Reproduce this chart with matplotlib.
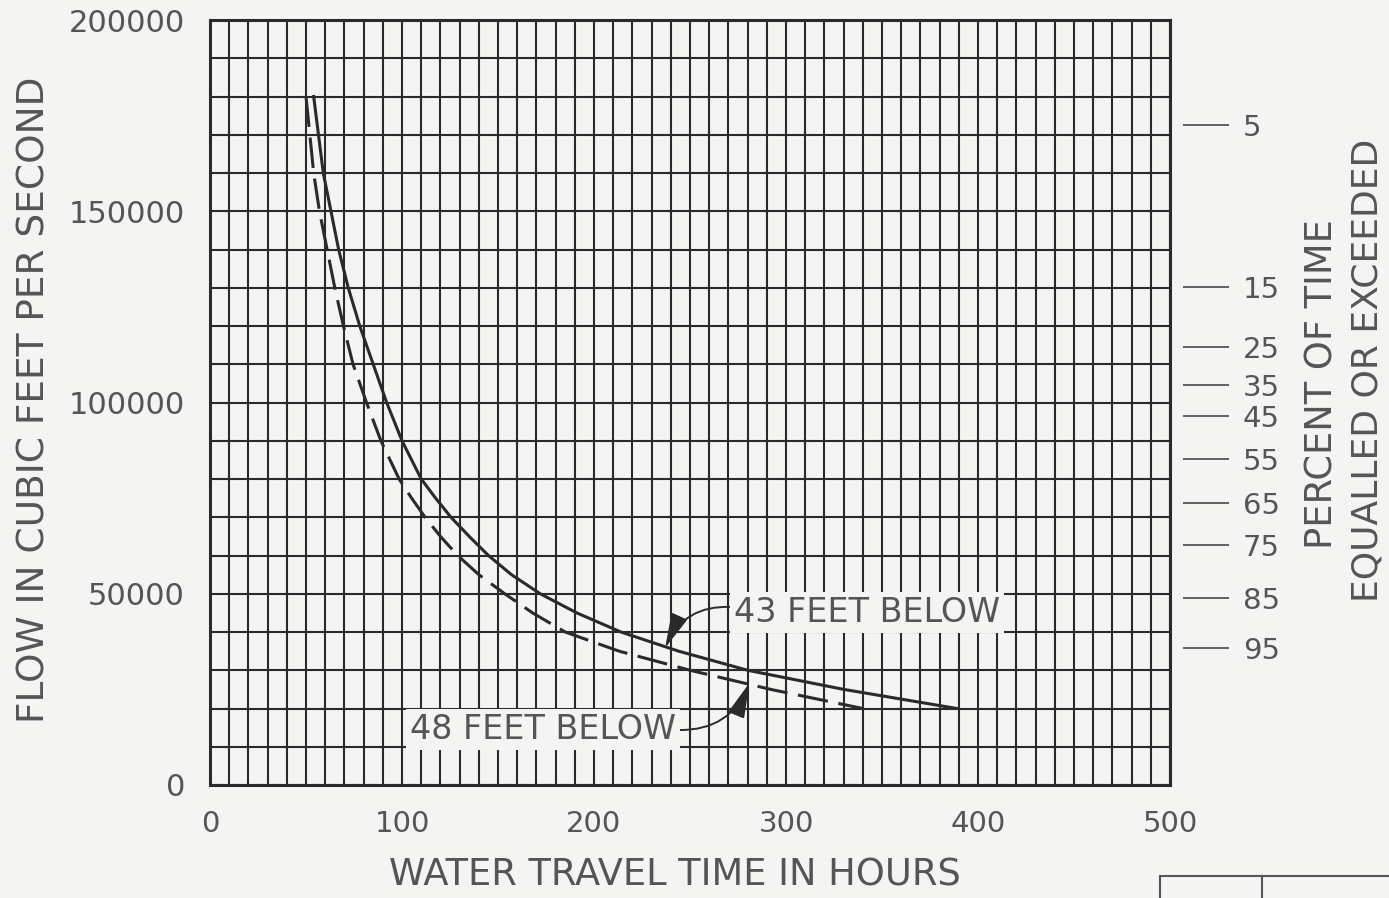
import numpy as np
import matplotlib
matplotlib.use("Agg")
import matplotlib.pyplot as plt

# flow (cfs), with travel time (hours) of each curve
flow = [180000, 170000, 160000, 150000, 140000, 130000, 120000, 110000, 100000, 90000,
        80000, 75000, 70000, 65000, 60000, 55000, 50000, 45000, 40000, 35000,
        30000, 25000, 20000]
hours_43ft = [54, 56.5, 59, 63, 67, 72, 78, 85, 92, 100,
              110, 117.5, 125.5, 135, 145, 157, 172, 191, 214, 244,
              280, 330, 389]
hours_48ft = [50, 52, 54, 57, 61, 65, 69.5, 74.5, 81.5, 89,
              98.5, 105, 112, 120, 129, 140, 153.5, 168, 185, 213,
              250, 292, 340]

# right-hand scale: percent of time equalled or exceeded, placed at flow
pct_labels = ["5", "15", "25", "35", "45", "55", "65", "75", "85", "95"]
pct_flow = [172500, 130300, 114400, 104500, 96500, 85100, 73600, 62700, 48800, 35900]

x_ticks = [0, 100, 200, 300, 400, 500]
y_ticks = [0, 50000, 100000, 150000, 200000]

bg = "#f4f4f3"
ink = "#2a2a2a"
txt = "#555555"
plt.rcParams["font.family"] = ["DejaVu Sans"]

fig = plt.figure(figsize=(13.89, 8.98), dpi=100, facecolor=bg)
ax = fig.add_axes([210 / 1389, 113 / 898, 960 / 1389, 765 / 898], facecolor=bg)

ax.set_xlim(0, 500)
ax.set_ylim(0, 200000)
ax.set_xticks(x_ticks)
ax.set_yticks(y_ticks)
ax.set_xticklabels([str(v) for v in x_ticks])
ax.set_yticklabels([str(v) for v in y_ticks])
ax.set_xticks(np.arange(0, 501, 10), minor=True)
ax.set_yticks(np.arange(0, 200001, 10000), minor=True)
ax.grid(which="both", color=ink, lw=1.5)
ax.set_axisbelow(True)
ax.tick_params(which="both", length=0, labelcolor=txt)
ax.tick_params(axis="x", pad=18, labelsize=21)
ax.tick_params(axis="y", pad=18, labelsize=22)
for s in ax.spines.values():
    s.set_linewidth(2.2)
    s.set_color(ink)

ax.plot(hours_43ft, flow, color=ink, lw=2.2, solid_joinstyle="round")
ax.plot(hours_48ft, flow, color=ink, lw=2.2, dashes=(10, 3.5))

arrow = dict(arrowstyle="-|>,head_length=0.9,head_width=0.22", color=ink, lw=1.4,
             shrinkA=0, shrinkB=0)
bbox = dict(boxstyle="square,pad=0.12", fc=bg, ec="none")
ax.annotate("43 FEET BELOW", xy=(237, 35800), xytext=(273, 45200), ha="left", va="center",
            fontsize=24, color=txt, bbox=bbox,
            arrowprops=dict(arrow, connectionstyle="arc3,rad=0.35", relpos=(0, 0.65)))
ax.annotate("48 FEET BELOW", xy=(281, 26700), xytext=(104, 14400), ha="left", va="center",
            fontsize=24, color=txt, bbox=bbox,
            arrowprops=dict(arrow, connectionstyle="arc3,rad=0.35", relpos=(1, 0.5)))

# percent scale on the right, ticks set off from the frame
ax2 = ax.twinx()
ax2.set_ylim(ax.get_ylim())
ax2.set_yticks(pct_flow)
ax2.set_yticklabels(pct_labels)
ax2.spines["right"].set_position(("outward", 9.5))
for s in ax2.spines.values():
    s.set_visible(False)
ax2.tick_params(axis="y", length=33, width=1.3, color="#555", pad=10,
                labelsize=21, labelcolor=txt)

fig.text(35 / 1389, 1 - 400 / 898, "FLOW IN CUBIC FEET PER SECOND", rotation=90,
         ha="center", va="center", fontsize=27, color=txt)
fig.text(675 / 1389, 1 - 875 / 898, "WATER TRAVEL TIME IN HOURS",
         ha="center", va="center", fontsize=26.5, color=txt)
fig.text(1322 / 1389, 1 - 384 / 898, "PERCENT OF TIME", rotation=90,
         ha="center", va="center", fontsize=26.5, color=txt)
fig.text(1367 / 1389, 1 - 370 / 898, "EQUALLED OR EXCEEDED", rotation=90,
         ha="center", va="center", fontsize=26, color=txt)

# corner of the neighbouring title block
fig.add_artist(plt.Line2D([1160 / 1389, 1], [1 - 876 / 898] * 2, color="#555", lw=1.5))
fig.add_artist(plt.Line2D([1160 / 1389] * 2, [0, 1 - 876 / 898], color="#555", lw=1.5))
fig.add_artist(plt.Line2D([1262 / 1389] * 2, [0, 1 - 876 / 898], color="#555", lw=1.5))

fig.savefig("out.png", dpi=100, facecolor=bg)
